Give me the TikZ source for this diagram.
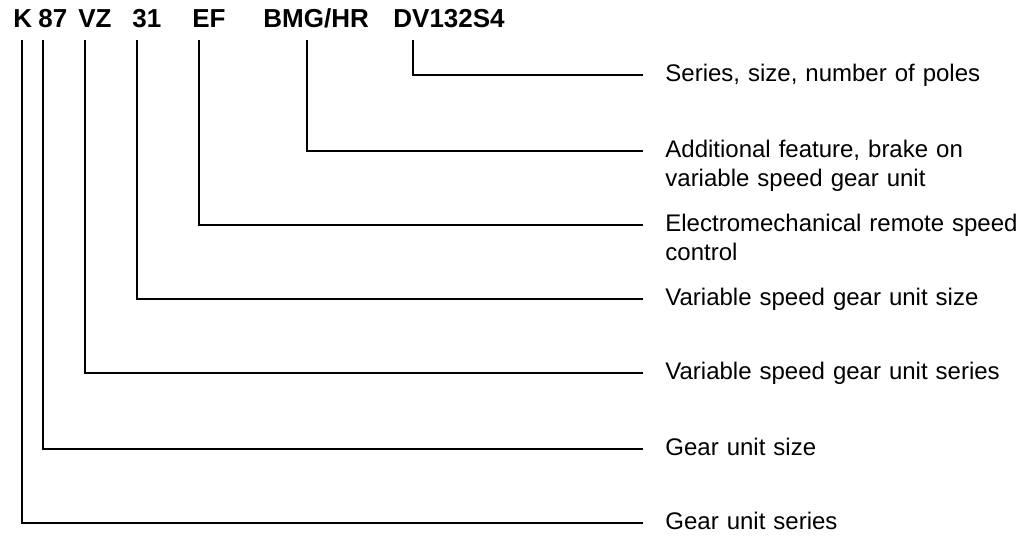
\documentclass[tikz,border=0pt]{standalone}
\usepackage{fontspec}
\setmainfont{Liberation Sans}
\usetikzlibrary{positioning}
\begin{document}
\begin{tikzpicture}[
    x=0.5pt, y=-0.5pt,
    code/.style={font=\fontsize{13}{15}\selectfont\bfseries, inner sep=0pt, anchor=base west},
    desc/.style={font=\fontsize{12}{14.5}\selectfont, inner sep=0pt, anchor=base west, text width=7cm, align=left},
    leader/.style={draw=black, line width=1.3pt}
]
    \useasboundingbox (0,0) rectangle (1028,538);

    % Type designation (top row)
    \node[code] (cK) at (13,27) {K};
    \node[code] (c87) at (38,27) {87};
    \node[code] (cVZ) at (78,27) {VZ};
    \node[code] (c31) at (132,27) {31};
    \node[code] (cEF) at (192,27) {EF};
    \node[code] (cBMG) at (263,27) {BMG/HR};
    \node[code] (cDV) at (393,27) {DV132S4};

    % Leader start points below the designation
    \coordinate (tK) at (22,40);
    \coordinate (t87) at (43,40);
    \coordinate (tVZ) at (85,40);
    \coordinate (t31) at (137,40);
    \coordinate (tEF) at (199,40);
    \coordinate (tBMG) at (307,40);
    \coordinate (tDV) at (413,40);

    % Leader end points
    \coordinate (eDV) at (643,75);
    \coordinate (eBMG) at (643,151);
    \coordinate (eEF) at (643,225);
    \coordinate (e31) at (643,299);
    \coordinate (eVZ) at (643,373);
    \coordinate (e87) at (643,449);
    \coordinate (eK) at (643,523);

    % Descriptions
    \node[desc] (lDV) at ([xshift=11pt, yshift=-3pt]eDV) {Series, size, number of poles};
    \node[desc] (lBMG) at ([xshift=11pt, yshift=-3pt]eBMG) {Additional feature, brake on\\variable speed gear unit};
    \node[desc] (lEF) at ([xshift=11pt, yshift=-3pt]eEF) {Electromechanical remote speed\\control};
    \node[desc] (l31) at ([xshift=11pt, yshift=-3pt]e31) {Variable speed gear unit size};
    \node[desc] (lVZ) at ([xshift=11pt, yshift=-3pt]eVZ) {Variable speed gear unit series};
    \node[desc] (l87) at ([xshift=11pt, yshift=-3pt]e87) {Gear unit size};
    \node[desc] (lK) at ([xshift=11pt, yshift=-3pt]eK) {Gear unit series};

    % Leaders
    \draw[leader] (tDV) |- (eDV);
    \draw[leader] (tBMG) |- (eBMG);
    \draw[leader] (tEF) |- (eEF);
    \draw[leader] (t31) |- (e31);
    \draw[leader] (tVZ) |- (eVZ);
    \draw[leader] (t87) |- (e87);
    \draw[leader] (tK) |- (eK);
\end{tikzpicture}
\end{document}
